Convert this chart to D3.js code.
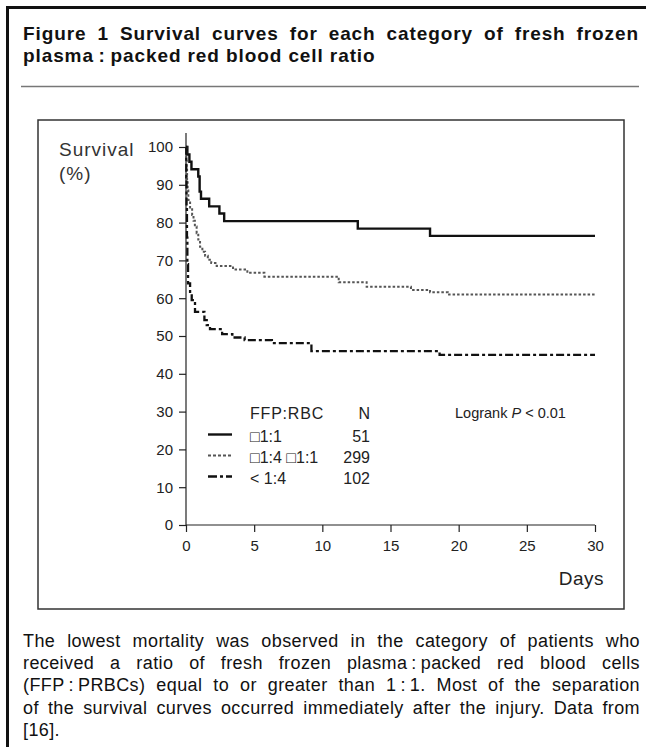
<!DOCTYPE html>
<html>
<head>
<meta charset="utf-8">
<script src="https://cdn.jsdelivr.net/npm/d3@7"></script>
<style>
  body { margin: 0; background: #fff; }
  svg { display: block; font-family: "Liberation Sans", Arial, Helvetica, sans-serif; }
</style>
</head>
<body>
<div id="container"></div>
<script>
const W = 646;
const H = 747;

// survival curves (day, survival %)
const solidDays = [0, 0.1, 0.25, 0.4, 0.9, 1.0, 1.1, 1.7, 2.45, 2.8, 12.6, 17.9, 30];
const solidVals = [100, 98.0, 96.1, 94.1, 92.2, 88.2, 86.3, 84.3, 82.4, 80.4, 78.4, 76.5, 76.5];

const dottedDays = [0, 0.02, 0.05, 0.08, 0.12, 0.17, 0.3, 0.45, 0.55, 0.65, 0.78, 0.9, 1.03, 1.2, 1.4, 1.6, 1.85, 2.25, 3.45, 4.5, 5.75, 11.2, 13.25, 16.5, 17.9, 19.2, 30];
const dottedVals = [100, 97, 94, 91, 88.5, 86, 84, 82, 80.5, 79, 77.2, 75.5, 73.6, 72.3, 71.2, 70.2, 69.3, 68.5, 67.6, 66.7, 65.7, 64.2, 63.0, 62.2, 61.6, 61.0, 61.0];

const dashDays = [0, 0.02, 0.04, 0.07, 0.1, 0.15, 0.3, 0.42, 0.66, 1.35, 1.52, 1.76, 2.65, 3.4, 4.3, 6.3, 9.2, 18.6, 30];
const dashVals = [100, 92, 84, 76, 69, 63.9, 61.3, 59.5, 56.4, 54.2, 52.9, 51.8, 50.5, 49.6, 48.9, 48.1, 46.0, 45.0, 45.0];

const yTicks = [0, 10, 20, 30, 40, 50, 60, 70, 80, 90, 100];
const xTicks = [0, 5, 10, 15, 20, 25, 30];

const groups = ["\u25A11:1", "\u25A11:4 \u25A11:1", "< 1:4"];
const groupN = ["51", "299", "102"];

const titleLines = [
  "Figure 1 Survival curves for each category of fresh frozen",
  "plasma\u2009:\u2009packed red blood cell ratio"
];
const captionLines = [
  "The lowest mortality was observed in the category of patients who",
  "received a ratio of fresh frozen plasma\u2009:\u2009packed red blood cells",
  "(FFP\u2009:\u2009PRBCs) equal to or greater than 1\u2009:\u20091. Most of the separation",
  "of the survival curves occurred immediately after the injury. Data from",
  "[16]."
];

const svg = d3.select("#container")
  .append("svg")
  .attr("width", W)
  .attr("height", H);

// outer frame (left + top) and title rule
svg.append("line").attr("x1", 7.5).attr("x2", 7.5).attr("y1", 6).attr("y2", H)
  .attr("stroke", "#111").attr("stroke-width", 3);
svg.append("line").attr("x1", 6).attr("x2", W).attr("y1", 7.5).attr("y2", 7.5)
  .attr("stroke", "#111").attr("stroke-width", 3);
svg.append("line").attr("x1", 21).attr("x2", 639).attr("y1", 86.5).attr("y2", 86.5)
  .attr("stroke", "#777").attr("stroke-width", 1.5);

// justify a text line by stretching the word gaps
function justify(sel, left, right) {
  const node = sel.node();
  const len = node.getComputedTextLength();
  const n = (sel.text().match(/ /g) || []).length;
  if (n > 0) sel.style("word-spacing", ((right - left - len) / n) + "px");
}

titleLines.forEach((t, i) => {
  const tx = svg.append("text")
    .attr("x", 23)
    .attr("y", 40 + i * 22)
    .style("font-size", "19px")
    .style("font-weight", "bold")
    .style("letter-spacing", "0.9px")
    .attr("fill", "#111")
    .text(t);
  if (i === 0) justify(tx, 23, 639);
});

captionLines.forEach((t, i) => {
  const tx = svg.append("text")
    .attr("x", 23)
    .attr("y", 647 + i * 22.2)
    .style("font-size", "18px")
    .style("letter-spacing", "0.4px")
    .attr("fill", "#111")
    .text(t);
  if (i < captionLines.length - 1) justify(tx, 23, 640);
});

// figure box
svg.append("rect")
  .attr("x", 38).attr("y", 120).attr("width", 586).attr("height", 489)
  .attr("fill", "none").attr("stroke", "#333").attr("stroke-width", 1.5);

// scales
const x = d3.scaleLinear().domain([0, 30]).range([186, 595]);
const y = d3.scaleLinear().domain([0, 100]).range([525, 147]);

const yAxis = d3.axisLeft(y).tickValues(yTicks).tickSize(7).tickSizeOuter(0).tickPadding(6);
const xAxis = d3.axisBottom(x).tickValues(xTicks).tickSize(7).tickSizeOuter(0).tickPadding(8);

const gy = svg.append("g").attr("transform", `translate(${x(0)},0)`).call(yAxis);
gy.select(".domain").remove();
gy.append("line").attr("x1", 0).attr("x2", 0).attr("y1", 133).attr("y2", y(0))
  .attr("stroke", "#222").attr("stroke-width", 1.2);

const gx = svg.append("g").attr("transform", `translate(0,${y(0)})`).call(xAxis);
gx.select(".domain").remove();
gx.append("line").attr("x1", x(0)).attr("x2", x(30)).attr("y1", 0).attr("y2", 0)
  .attr("stroke", "#222").attr("stroke-width", 1.2);

[gx, gy].forEach(g => {
  g.selectAll(".tick line").attr("stroke", "#222").attr("stroke-width", 1.2);
  g.selectAll(".tick text")
    .attr("fill", "#222")
    .style("font-size", "15px")
    .style("font-family", "'Liberation Sans', Arial, sans-serif");
});

// axis labels
svg.append("text").attr("x", 59).attr("y", 156)
  .style("font-size", "19px").style("letter-spacing", "1px")
  .attr("fill", "#333").text("Survival");
svg.append("text").attr("x", 59).attr("y", 180)
  .style("font-size", "19px").style("letter-spacing", "1px")
  .attr("fill", "#333").text("(%)");
svg.append("text").attr("x", 604).attr("y", 585)
  .attr("text-anchor", "end")
  .style("font-size", "19px").style("letter-spacing", "0.5px")
  .attr("fill", "#222").text("Days");

// curves
const line = d3.line()
  .x(d => x(d[0]))
  .y(d => y(d[1]))
  .curve(d3.curveStepAfter);

const series = [
  { days: solidDays, vals: solidVals, color: "#111", width: 2.4, dash: null, legendDash: null },
  { days: dottedDays, vals: dottedVals, color: "#555", width: 2, dash: "2.5,2", legendDash: "3,2" },
  { days: dashDays, vals: dashVals, color: "#111", width: 2.3, dash: "8,3,3,3", legendDash: "9,3,3,3" }
];

series.forEach(s => {
  svg.append("path")
    .datum(s.days.map((d, i) => [d, s.vals[i]]))
    .attr("d", line)
    .attr("fill", "none")
    .attr("stroke", s.color)
    .attr("stroke-width", s.width)
    .attr("stroke-dasharray", s.dash);
});

// legend
const legend = svg.append("g").attr("id", "legend");
legend.append("text").attr("x", 250).attr("y", 419)
  .style("font-size", "16px").style("letter-spacing", "0.8px")
  .attr("fill", "#222").text("FFP:RBC");
legend.append("text").attr("x", 370).attr("y", 419).attr("text-anchor", "end")
  .style("font-size", "16px").attr("fill", "#222").text("N");

const rowY = [441.5, 462.5, 483.5];
groups.forEach((g, i) => {
  legend.append("line")
    .attr("x1", 208).attr("x2", 232)
    .attr("y1", rowY[i] - 7).attr("y2", rowY[i] - 7)
    .attr("stroke", series[i].color)
    .attr("stroke-width", series[i].width)
    .attr("stroke-dasharray", series[i].legendDash);
  legend.append("text").attr("x", 250).attr("y", rowY[i])
    .style("font-size", "16px").attr("fill", "#222").text(g);
  legend.append("text").attr("x", 370).attr("y", rowY[i]).attr("text-anchor", "end")
    .style("font-size", "16px").attr("fill", "#222").text(groupN[i]);
});

const lr = legend.append("text").attr("x", 455).attr("y", 418)
  .style("font-size", "14.5px").attr("fill", "#222");
lr.append("tspan").text("Logrank ");
lr.append("tspan").style("font-style", "italic").text("P");
lr.append("tspan").text(" < 0.01");
</script>
</body>
</html>
